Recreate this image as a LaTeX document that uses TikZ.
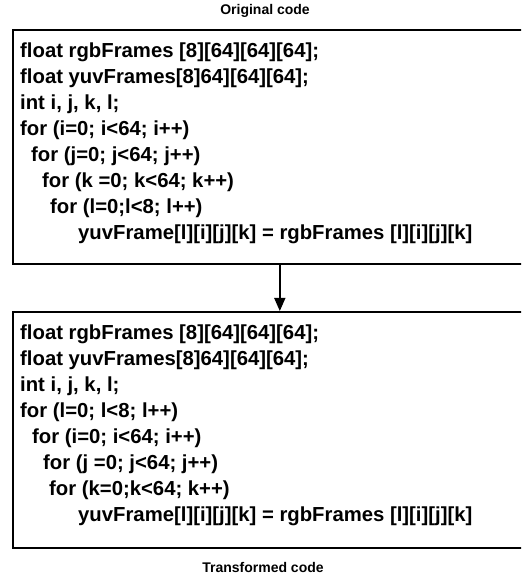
\documentclass[tikz,border=0pt]{standalone}
\usepackage{fontspec}
\setmainfont{Liberation Sans}
\usetikzlibrary{arrows.meta}
\begin{document}
\begin{tikzpicture}[x=1pt,y=1pt,
  codebox/.style={draw=black, line width=1.6pt, minimum width=534pt, anchor=north west, inner sep=0pt},
  codeline/.style={anchor=base west, inner sep=0pt, font=\fontsize{20.3}{24}\selectfont\bfseries},
  caption/.style={anchor=base, inner sep=0pt, font=\fontsize{14}{16}\selectfont\bfseries},
  link/.style={line width=1.5pt, -{Triangle[length=13pt,width=11pt]}}]
\useasboundingbox (0,0) rectangle (521,577);
\clip (0,0) rectangle (521,577);
\node[caption] (cap1) at (265,562) {Original code};
\node[codebox, minimum height=234pt] (box1) at (12,548) {};
\node[codeline] (o1) at (20,519) {float rgbFrames [8][64][64][64];};
\node[codeline] (o2) at (20,493) {float yuvFrames[8]64][64][64];};
\node[codeline] (o3) at (20,467) {int i, j, k, l;};
\node[codeline] (o4) at (20,441) {for (i=0; i<64; i++)};
\node[codeline] (o5) at (31,415) {for (j=0; j<64; j++)};
\node[codeline] (o6) at (42,389) {for (k =0; k<64; k++)};
\node[codeline] (o7) at (50,363) {for (l=0;l<8; l++)};
\node[codeline] (o8) at (78,337) {yuvFrame[l][i][j][k] = rgbFrames [l][i][j][k]};
\node[codebox, minimum height=236pt] (box2) at (12,266) {};
\node[codeline] (t1) at (20,237) {float rgbFrames [8][64][64][64];};
\node[codeline] (t2) at (20,211) {float yuvFrames[8]64][64][64];};
\node[codeline] (t3) at (20,185) {int i, j, k, l;};
\node[codeline] (t4) at (20,159) {for (l=0; l<8; l++)};
\node[codeline] (t5) at (32,133) {for (i=0; i<64; i++)};
\node[codeline] (t6) at (43,107) {for (j =0; j<64; j++)};
\node[codeline] (t7) at (49,81) {for (k=0;k<64; k++)};
\node[codeline] (t8) at (78,55) {yuvFrame[l][i][j][k] = rgbFrames [l][i][j][k]};
\node[caption] (cap2) at (263,5) {Transformed code};
\draw[link] (box1.south) -- (box2.north);
\end{tikzpicture}
\end{document}
